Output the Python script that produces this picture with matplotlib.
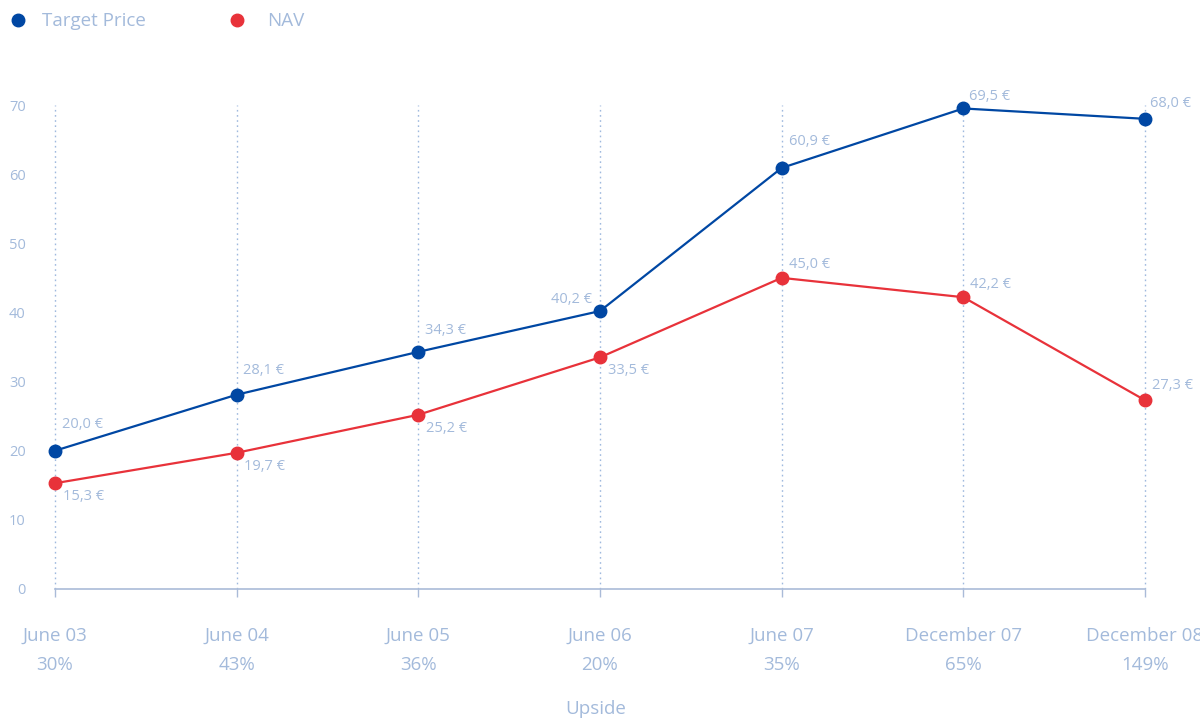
import matplotlib.pyplot as plt
from matplotlib.lines import Line2D
from matplotlib.transforms import blended_transform_factory

# chart data
periods = ['June 03', 'June 04', 'June 05', 'June 06', 'June 07', 'December 07', 'December 08']
upside = ['30%', '43%', '36%', '20%', '35%', '65%', '149%']
target_price = [20.0, 28.1, 34.3, 40.2, 60.9, 69.5, 68.0]
nav = [15.3, 19.7, 25.2, 33.5, 45.0, 42.2, 27.3]

# colours
blue = '#0047a3'
red = '#e8323a'
txt = '#a3badb'
grid_c = '#9fb9de'

plt.rcParams['font.family'] = ['Open Sans', 'DejaVu Sans']

fig = plt.figure(figsize=(12, 7.18), dpi=100)
ax = fig.add_axes([55 / 1200, 1 - 589 / 718, 1090 / 1200, (589 - 105) / 718])

x = list(range(len(periods)))
ax.set_xlim(0, len(periods) - 1)
ax.set_ylim(0, 70)

# vertical dotted guides
for xi in x:
    ax.plot([xi, xi], [0, 70], ls=(0, (1.2, 2.5)), lw=1, color=grid_c, zorder=1, clip_on=False)

ax.plot(x, target_price, color=blue, lw=1.6, marker='o', ms=9, zorder=3, clip_on=False)
ax.plot(x, nav, color=red, lw=1.6, marker='o', ms=9, zorder=3, clip_on=False)

# label offsets (pixels) and alignment
tp_off = [(7, 26, 'left'), (6, 24, 'left'), (7, 21, 'left'), (-8, 12, 'right'),
          (7, 26, 'left'), (6, 12, 'left'), (5, 15, 'left')]
nav_off = [(8, -13, 'left'), (7, -14, 'left'), (8, -14, 'left'), (8, -13, 'left'),
           (7, 13, 'left'), (7, 13, 'left'), (7, 15, 'left')]
for xi, v, (dx, dy, ha) in zip(x, target_price, tp_off):
    ax.annotate(f'{v:.1f} €'.replace('.', ','), (xi, v), xytext=(dx, dy),
                textcoords='offset pixels', ha=ha, va='center', fontsize=10.5, color=txt,
                annotation_clip=False)
for xi, v, (dx, dy, ha) in zip(x, nav, nav_off):
    ax.annotate(f'{v:.1f} €'.replace('.', ','), (xi, v), xytext=(dx, dy),
                textcoords='offset pixels', ha=ha, va='center', fontsize=10.5, color=txt,
                annotation_clip=False)

# axes styling
for s in ['top', 'right', 'left']:
    ax.spines[s].set_visible(False)
ax.spines['bottom'].set_color('#aabbd8')
ax.spines['bottom'].set_linewidth(1.2)
ax.set_yticks(range(0, 71, 10))
ax.tick_params(axis='y', length=0, labelsize=10.5, labelcolor=txt, pad=21)
ax.set_xticks(x)
ax.set_xticklabels([])
ax.tick_params(axis='x', length=6, width=1, color='#aabbd8', direction='out')

trans = blended_transform_factory(ax.transData, ax.transAxes)
for xi, p, u in zip(x, periods, upside):
    ax.annotate(p, (xi, 0), xycoords=trans, xytext=(0, -47), textcoords='offset pixels',
                ha='center', va='center', fontsize=13.5, color=txt, annotation_clip=False)
    ax.annotate(u, (xi, 0), xycoords=trans, xytext=(0, -76), textcoords='offset pixels',
                ha='center', va='center', fontsize=13.5, color=txt, annotation_clip=False)

fig.text(596 / 1200, 1 - 709 / 718, 'Upside', ha='center', va='center', fontsize=13.5, color=txt)

# legend
fig.add_artist(Line2D([18 / 1200], [1 - 20 / 718], marker='o', ms=9, color=blue, ls='none'))
fig.text(42 / 1200, 1 - 21 / 718, 'Target Price', ha='left', va='center', fontsize=13.5, color=txt)
fig.add_artist(Line2D([237 / 1200], [1 - 20 / 718], marker='o', ms=9, color=red, ls='none'))
fig.text(267 / 1200, 1 - 21 / 718, 'NAV', ha='left', va='center', fontsize=13.5, color=txt)

fig.savefig('out.png', dpi=100)
